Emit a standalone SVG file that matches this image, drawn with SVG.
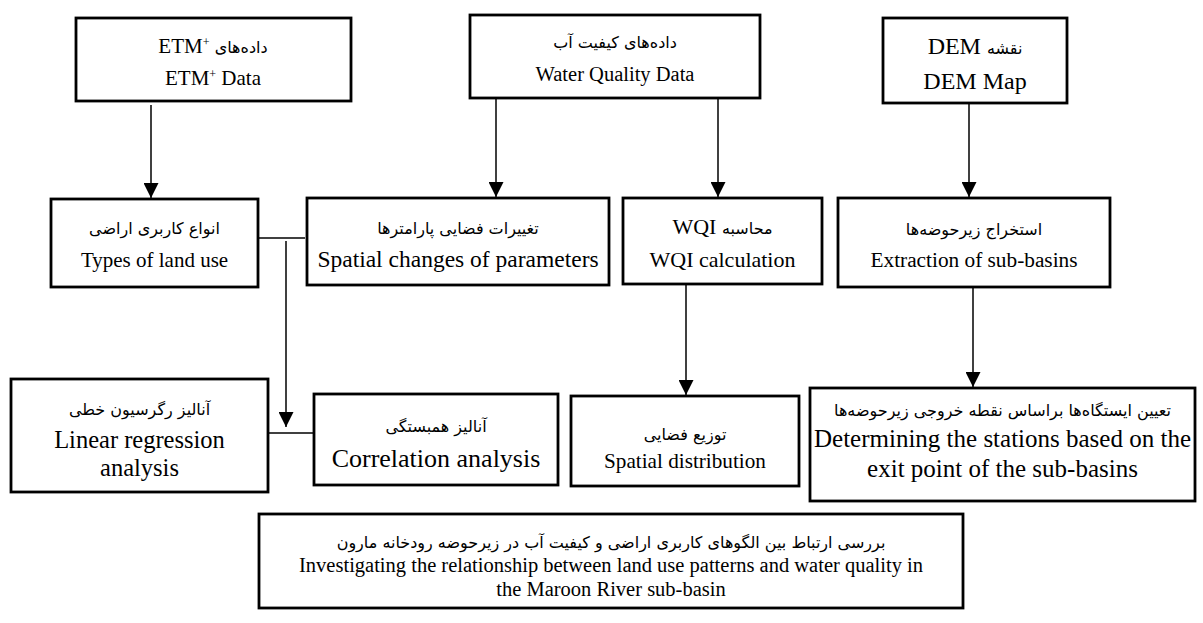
<svg xmlns="http://www.w3.org/2000/svg" width="1203" height="623" viewBox="0 0 1203 623">
<style>
.box{fill:#fff;stroke:#000;stroke-width:2.8}
.en{font-family:"Liberation Serif","DejaVu Sans",serif;fill:#000;text-anchor:middle}
.fa{font-family:"DejaVu Sans","Liberation Serif",sans-serif;fill:#000;text-anchor:middle;font-size:16px}
.con{stroke:#000;stroke-width:1.5;fill:none}
</style>
<defs>
<marker id="arr" viewBox="0 0 10 10" refX="10" refY="5" markerWidth="15" markerHeight="15" markerUnits="userSpaceOnUse" orient="auto">
<path d="M0,0 L10,5 L0,10 z" fill="#000"/>
</marker>
</defs>
<rect width="1203" height="623" fill="#fff"/>
<g id="connectors">
<line class="con" x1="151" y1="105" x2="151" y2="198" marker-end="url(#arr)"/>
<line class="con" x1="496" y1="98" x2="496" y2="197" marker-end="url(#arr)"/>
<line class="con" x1="718" y1="98" x2="718" y2="197" marker-end="url(#arr)"/>
<line class="con" x1="969" y1="103" x2="969" y2="197" marker-end="url(#arr)"/>
<line class="con" x1="258" y1="238" x2="305" y2="238"/>
<line class="con" x1="286" y1="241" x2="286" y2="427" marker-end="url(#arr)"/>
<line class="con" x1="268" y1="433" x2="314" y2="433"/>
<line class="con" x1="686" y1="284" x2="686" y2="395" marker-end="url(#arr)"/>
<line class="con" x1="973" y1="287" x2="973" y2="387" marker-end="url(#arr)"/>
</g>
<g id="n-etm">
<rect class="box" x="76" y="18" width="275" height="83"/>
<text class="en" x="213" y="53" font-size="21" direction="rtl"><tspan class="fa" font-size="18">داده‌های</tspan> <tspan direction="ltr" unicode-bidi="embed">ETM<tspan font-size="12" baseline-shift="super">+</tspan></tspan></text>
<text class="en" x="213" y="85" font-size="21">ETM<tspan font-size="12" baseline-shift="super">+</tspan> Data</text>
</g>
<g id="n-wq">
<rect class="box" x="470" y="15" width="290" height="83"/>
<text class="fa" x="615" y="48" direction="rtl" font-size="19.5">داده‌های کیفیت آب</text>
<text class="en" x="615" y="81" font-size="20.5">Water Quality Data</text>
</g>
<g id="n-dem">
<rect class="box" x="883" y="18" width="184" height="85"/>
<text class="en" x="975" y="54" font-size="24" direction="rtl"><tspan class="fa" font-size="18">نقشه</tspan> DEM</text>
<text class="en" x="975" y="89" font-size="24">DEM Map</text>
</g>
<g id="n-landuse">
<rect class="box" x="51" y="199" width="207" height="88"/>
<text class="fa" x="154.5" y="234" direction="rtl" font-size="18">انواع کاربری اراضی</text>
<text class="en" x="154.5" y="267" font-size="21">Types of land use</text>
</g>
<g id="n-spatialchanges">
<rect class="box" x="307" y="198" width="302" height="87"/>
<text class="fa" x="458" y="234" direction="rtl" font-size="21">تغییرات فضایی پارامترها</text>
<text class="en" x="458" y="267" font-size="23.5">Spatial changes of parameters</text>
</g>
<g id="n-wqi">
<rect class="box" x="623" y="198" width="199" height="86"/>
<text class="en" x="722.5" y="234" font-size="22" direction="rtl"><tspan class="fa" font-size="18">محاسبه</tspan> WQI</text>
<text class="en" x="722.5" y="267" font-size="22">WQI calculation</text>
</g>
<g id="n-extraction">
<rect class="box" x="838" y="198" width="272" height="89"/>
<text class="fa" x="974" y="235" direction="rtl" font-size="18.5">استخراج زیرحوضه‌ها</text>
<text class="en" x="974" y="267" font-size="21.3">Extraction of sub-basins</text>
</g>
<g id="n-regression">
<rect class="box" x="11" y="379" width="257" height="113"/>
<text class="fa" x="139.5" y="415" direction="rtl" font-size="18">آنالیز رگرسیون خطی</text>
<text class="en" x="139.5" y="448" font-size="24.5">Linear regression</text>
<text class="en" x="139.5" y="476" font-size="24.5">analysis</text>
</g>
<g id="n-correlation">
<rect class="box" x="314" y="394" width="244" height="91"/>
<text class="fa" x="436" y="432" direction="rtl" font-size="20.5">آنالیز همبستگی</text>
<text class="en" x="436" y="467" font-size="26">Correlation analysis</text>
</g>
<g id="n-distribution">
<rect class="box" x="571" y="396" width="228" height="90"/>
<text class="fa" x="685" y="440" direction="rtl" font-size="19.5">توزیع فضایی</text>
<text class="en" x="685" y="468" font-size="21.2">Spatial distribution</text>
</g>
<g id="n-stations">
<rect class="box" x="810" y="388" width="385" height="113"/>
<text class="fa" x="1002.5" y="416" direction="rtl" font-size="21">تعیین ایستگاه‌ها براساس نقطه خروجی زیرحوضه‌ها</text>
<text class="en" x="1002.5" y="447" font-size="25">Determining the stations based on the</text>
<text class="en" x="1002.5" y="477" font-size="25">exit point of the sub-basins</text>
</g>
<g id="n-result">
<rect class="box" x="259" y="514" width="704" height="94"/>
<text class="fa" x="611" y="548" direction="rtl" font-size="16.5">بررسی ارتباط بین الگوهای کاربری اراضی و کیفیت آب در زیرحوضه رودخانه مارون</text>
<text class="en" x="611" y="572" font-size="20.5">Investigating the relationship between land use patterns and water quality in</text>
<text class="en" x="611" y="596" font-size="20.5">the Maroon River sub-basin</text>
</g>
</svg>
